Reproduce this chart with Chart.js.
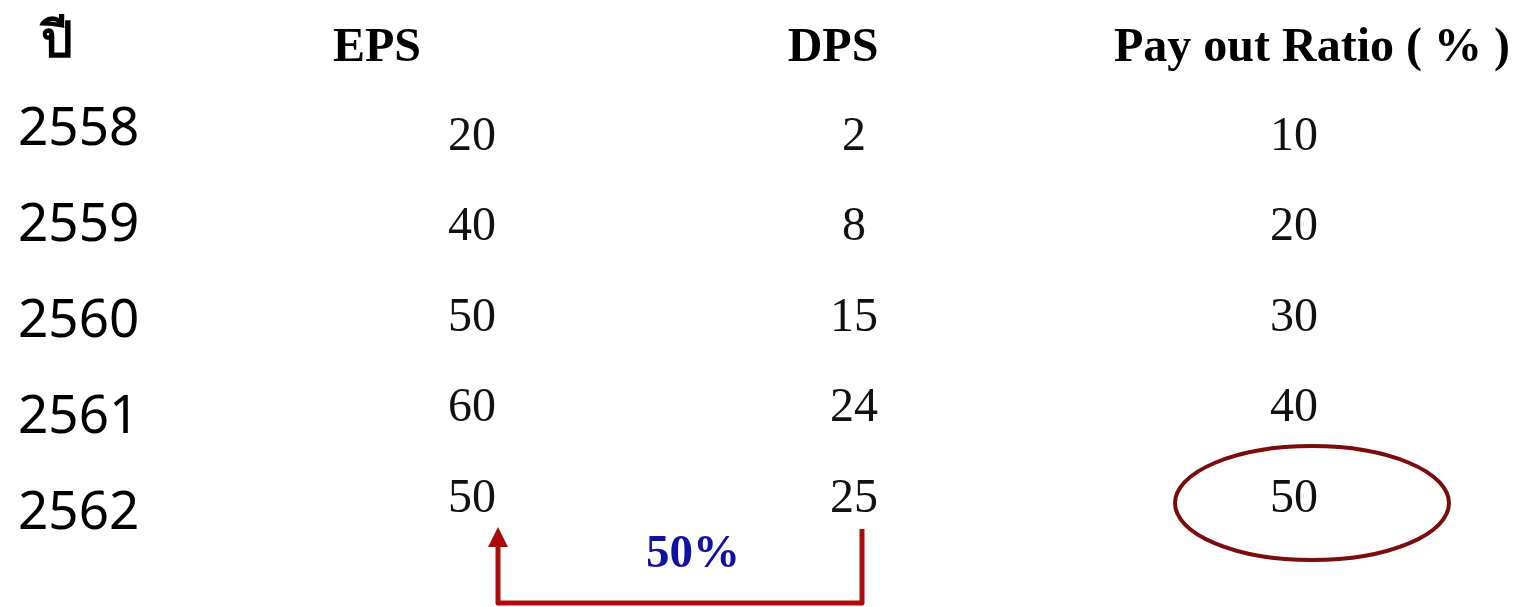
<!DOCTYPE html>
<html lang="th">
<head>
<meta charset="UTF-8">
<title>EPS DPS Pay out Ratio</title>
<script src="https://cdn.jsdelivr.net/npm/chart.js"></script>
<style>
    html, body { margin: 0; padding: 0; background: #fff; }
    #wrap { width: 1519px; height: 607px; }
</style>
</head>
<body>
<div id="wrap"><canvas id="tbl"></canvas></div>
<script>
// ข้อมูลตาราง
var headers = ['ปี', 'EPS', 'DPS', 'Pay out Ratio ( % )'];
var years = ['2558', '2559', '2560', '2561', '2562'];
var eps = [20, 40, 50, 60, 50];
var dps = [2, 8, 15, 24, 25];
var payout = [10, 20, 30, 40, 50];
var noteLabel = '50%';

// ตำแหน่งคอลัมน์ (pixel บนแกน x ที่ซ่อนไว้)
var layout = {
    headX: [57, 377, 833, 1312],
    colX: { eps: 472, dps: 854, pay: 1294 },
    yearX: 18
};

function pts(arr, x) {
    return arr.map(function (v, i) { return { x: x, y: i, v: v }; });
}

var tablePlugin = {
    id: 'tablePlugin',
    afterDatasetsDraw: function (chart) {
        var ctx = chart.ctx;
        var xs = chart.scales.x, ys = chart.scales.y, yy = chart.scales.y2;
        ctx.save();
        ctx.textBaseline = 'middle';

        // หัวตาราง
        ctx.fillStyle = '#000';
        ctx.textAlign = 'center';
        headers.forEach(function (h, i) {
            ctx.font = i === 0 ? 'bold 50px "Liberation Serif", "Noto Sans", serif'
                               : 'bold 48px "Liberation Serif", serif';
            ctx.fillText(h, xs.getPixelForValue(layout.headX[i]), ys.getPixelForValue(i === 0 ? -1 : -0.96));
        });

        // ปี
        ctx.font = '53px "Noto Sans", sans-serif';
        ctx.fillStyle = '#000';
        ctx.textAlign = 'left';
        years.forEach(function (y, i) {
            ctx.fillText(y, xs.getPixelForValue(layout.yearX), yy.getPixelForValue(i) + 2);
        });

        // ค่าในตาราง
        ctx.font = '48px "Liberation Serif", serif';
        ctx.fillStyle = '#111';
        ctx.textAlign = 'center';
        chart.data.datasets.forEach(function (ds, di) {
            chart.getDatasetMeta(di).data.forEach(function (el, j) {
                ctx.fillText(String(ds.data[j].v), el.x, el.y + 2);
            });
        });

        // วงรีรอบ payout ปีสุดท้าย
        var last = payout.length - 1;
        var cx = xs.getPixelForValue(layout.headX[3]);
        var cy = ys.getPixelForValue(last) + 6;
        ctx.beginPath();
        ctx.ellipse(cx, cy, 137, 57, 0, 0, Math.PI * 2);
        ctx.strokeStyle = '#7b0c0c';
        ctx.lineWidth = 4;
        ctx.stroke();

        // ลูกศรจาก DPS ไป EPS
        var xR = xs.getPixelForValue(layout.colX.dps + 8);
        var xL = xs.getPixelForValue(layout.colX.eps + 26);
        var yTop = ys.getPixelForValue(last) + 30;
        var yBot = ys.getPixelForValue(last + 1.17);
        ctx.strokeStyle = '#ad0a0a';
        ctx.fillStyle = '#ad0a0a';
        ctx.lineWidth = 5;
        ctx.lineJoin = 'round';
        ctx.beginPath();
        ctx.moveTo(xR, yTop + 2);
        ctx.lineTo(xR, yBot);
        ctx.lineTo(xL, yBot);
        ctx.lineTo(xL, yTop + 18);
        ctx.stroke();
        ctx.beginPath();
        ctx.moveTo(xL, yTop);
        ctx.lineTo(xL - 10, yTop + 20);
        ctx.lineTo(xL + 10, yTop + 20);
        ctx.closePath();
        ctx.fill();

        // ป้าย 50%
        ctx.font = 'bold 47px "Liberation Serif", serif';
        ctx.fillStyle = '#1212a0';
        ctx.textAlign = 'center';
        ctx.fillText(noteLabel, (xL + xR) / 2 + 13, ys.getPixelForValue(last + 0.64));

        ctx.restore();
    }
};

new Chart(document.getElementById('tbl'), {
    type: 'scatter',
    data: {
        datasets: [
            { label: 'EPS', data: pts(eps, layout.colX.eps), pointRadius: 0 },
            { label: 'DPS', data: pts(dps, layout.colX.dps), pointRadius: 0 },
            { label: 'Pay out Ratio', data: pts(payout, layout.colX.pay), pointRadius: 0 }
        ]
    },
    options: {
        responsive: true,
        maintainAspectRatio: false,
        animation: false,
        layout: { padding: 0 },
        events: [],
        plugins: {
            legend: { display: false },
            tooltip: { enabled: false }
        },
        scales: {
            x: { type: 'linear', min: 0, max: 1519, display: false },
            // แถวตัวเลข: ศูนย์กลางแถวแรกที่ ~135px ห่างกัน ~90.5px
            y: { type: 'linear', reverse: true, min: -1.492, max: 5.215, display: false },
            // แถวปี: ศูนย์กลางแถวแรกที่ ~128px ห่างกัน ~96px
            y2: { type: 'linear', reverse: true, min: -1.333, max: 4.990, display: false }
        }
    },
    plugins: [tablePlugin]
});
</script>
</body>
</html>
